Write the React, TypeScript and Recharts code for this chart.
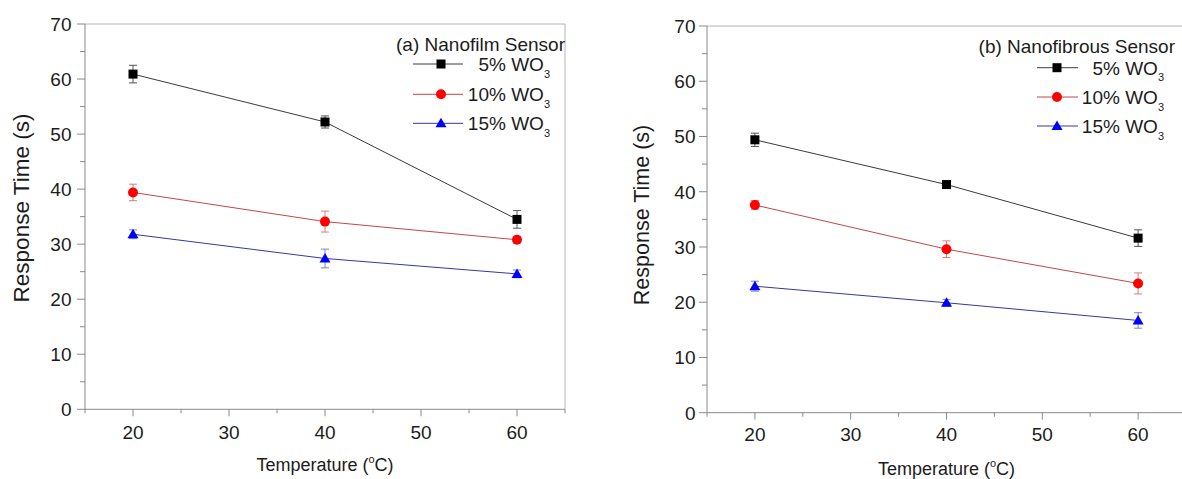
import { LineChart, Line, XAxis, YAxis, ErrorBar, ReferenceLine, Legend, Label } from 'recharts';

const temperatures = [20, 40, 60];

// (a) nanofilm sensor
const filmWO5 = [60.9, 52.2, 34.5];
const filmWO5Err = [1.6, 1.1, 1.6];
const filmWO10 = [39.4, 34.1, 30.8];
const filmWO10Err = [1.5, 1.9, 0.6];
const filmWO15 = [31.8, 27.4, 24.6];
const filmWO15Err = [0.8, 1.7, 0.7];

// (b) nanofibrous sensor
const fiberWO5 = [49.4, 41.3, 31.6];
const fiberWO5Err = [1.2, 0.5, 1.5];
const fiberWO10 = [37.6, 29.6, 23.4];
const fiberWO10Err = [0.8, 1.5, 1.9];
const fiberWO15 = [22.9, 19.9, 16.7];
const fiberWO15Err = [0.9, 0.6, 1.4];

const xTicks = [15, 20, 25, 30, 35, 40, 45, 50, 55, 60, 65];
const yTicks = [0, 5, 10, 15, 20, 25, 30, 35, 40, 45, 50, 55, 60, 65, 70];
const seriesLabels = ['5%', '10%', '15%'];

const FONT = '"Liberation Sans", Arial, sans-serif';
const AXIS = '#8a8a8a';
const FRAME = '#b4b4b4';
const INK = '#1c1c1c';
const TICK_FONT = 19;
const LEGEND_FONT = 19;

const SERIES = [
  { key: 'a', shape: 'square', fill: '#000000', line: '#3a3a3a', err: '#555555' },
  { key: 'b', shape: 'circle', fill: '#ff0000', line: '#c24848', err: '#dd7a7a' },
  { key: 'c', shape: 'triangle', fill: '#0000ff', line: '#38389a', err: '#8080c0' },
];

const buildRows = (
  v5: number[], e5: number[], v10: number[], e10: number[], v15: number[], e15: number[],
) =>
  temperatures.map((t, i) => ({
    t,
    a: v5[i], ea: e5[i],
    b: v10[i], eb: e10[i],
    c: v15[i], ec: e15[i],
  }));

const filmRows = buildRows(filmWO5, filmWO5Err, filmWO10, filmWO10Err, filmWO15, filmWO15Err);
const fiberRows = buildRows(fiberWO5, fiberWO5Err, fiberWO10, fiberWO10Err, fiberWO15, fiberWO15Err);

function Marker({ cx, cy, shape, fill }: { cx: number; cy: number; shape: string; fill: string }) {
  if (cx == null || cy == null) return null;
  if (shape === 'square') return <rect x={cx - 4.5} y={cy - 4.5} width={9} height={9} fill={fill} />;
  if (shape === 'circle') return <circle cx={cx} cy={cy} r={5} fill={fill} />;
  return <polygon points={`${cx},${cy - 5.5} ${cx - 5.5},${cy + 4} ${cx + 5.5},${cy + 4}`} fill={fill} />;
}

function makeXTick(labelDy: number) {
  return (props: any) => {
    const { x, y, payload } = props;
    const v = payload.value;
    const major = v % 10 === 0;
    return (
      <g>
        <line x1={x} x2={x} y1={y} y2={y + (major ? 7 : 4)} stroke={AXIS} />
        {major && (
          <text x={x} y={y + labelDy} textAnchor="middle" fontSize={TICK_FONT} fill={INK} fontFamily={FONT}>
            {v}
          </text>
        )}
      </g>
    );
  };
}

function makeYTick(gap: number) {
  return (props: any) => {
    const { x, y, payload } = props;
    const v = payload.value;
    const major = v % 10 === 0;
    return (
      <g>
        <line x1={x - (major ? 8 : 5)} x2={x} y1={y} y2={y} stroke={AXIS} />
        {major && (
          <text x={x - gap} y={y + 7} textAnchor="end" fontSize={TICK_FONT} fill={INK} fontFamily={FONT}>
            {v}
          </text>
        )}
      </g>
    );
  };
}

interface LegendGeom {
  titleX: number;
  titleY: number;
  rows: number[];
  lineX1: number;
  lineX2: number;
  markerX: number;
  textEnd: number;
}

function LegendBox({ title, g }: { title: string; g: LegendGeom }) {
  return (
    <svg width={200} height={110} style={{ overflow: 'visible', display: 'block' }}>
      <text x={g.titleX} y={g.titleY} textAnchor="end" fontSize={LEGEND_FONT} fill={INK} fontFamily={FONT}>
        {title}
      </text>
      {SERIES.map((s, i) => (
        <g key={s.key}>
          <line x1={g.lineX1} x2={g.lineX2} y1={g.rows[i]} y2={g.rows[i]} stroke={s.line} strokeWidth={1} />
          <Marker cx={g.markerX} cy={g.rows[i]} shape={s.shape} fill={s.fill} />
          <text x={g.textEnd} y={g.rows[i] + 7} textAnchor="end" fontSize={LEGEND_FONT} fill={INK} fontFamily={FONT}>
            {seriesLabels[i]} WO
            <tspan fontSize={11} dy={6.5}>3</tspan>
          </text>
        </g>
      ))}
    </svg>
  );
}

interface PanelProps {
  rows: ReturnType<typeof buildRows>;
  title: string;
  pageLeft: number;
  top: number;
  plotBottom: number;
  yAxisWidth: number;
  marginRight: number;
  yTitle: { x: number; y: number; size: number };
  yLabelGap: number;
  xLabelDy: number;
  legend: LegendGeom;
}

function Panel(p: PanelProps) {
  const height = 479;
  const xAxisHeight = height - p.plotBottom;
  return (
    <div style={{ position: 'absolute', left: p.pageLeft, top: 0 }}>
      <LineChart
        width={600}
        height={height}
        data={p.rows}
        margin={{ top: p.top, right: p.marginRight, bottom: 0, left: 0 }}
      >
        <XAxis
          dataKey="t"
          type="number"
          domain={[15, 65]}
          ticks={xTicks}
          interval={0}
          height={xAxisHeight}
          stroke={AXIS}
          tickLine={false}
          tickSize={0}
          tickMargin={0}
          tick={makeXTick(p.xLabelDy)}
        >
          <Label
            content={(lp: any) => {
              const vb = lp.viewBox;
              return (
                <text
                  x={vb.x + vb.width / 2}
                  y={vb.y + 62}
                  textAnchor="middle"
                  fontSize={18}
                  fill={INK}
                  fontFamily={FONT}
                >
                  Temperature (
                  <tspan fontSize={11} dy={-8}>o</tspan>
                  <tspan fontSize={18} dy={8}>C)</tspan>
                </text>
              );
            }}
          />
        </XAxis>
        <YAxis
          type="number"
          domain={[0, 70]}
          ticks={yTicks}
          interval={0}
          width={p.yAxisWidth}
          stroke={AXIS}
          tickLine={false}
          tickSize={0}
          tickMargin={0}
          tick={makeYTick(p.yLabelGap)}
        >
          <Label
            content={() => (
              <text
                x={p.yTitle.x}
                y={p.yTitle.y}
                transform={`rotate(-90, ${p.yTitle.x}, ${p.yTitle.y})`}
                textAnchor="middle"
                fontSize={p.yTitle.size}
                fill={INK}
                fontFamily={FONT}
              >
                Response Time (s)
              </text>
            )}
          />
        </YAxis>
        <ReferenceLine y={70} stroke={FRAME} strokeWidth={1} />
        <ReferenceLine x={65} stroke={FRAME} strokeWidth={1} />
        <Legend
          layout="vertical"
          align="center"
          verticalAlign="middle"
          wrapperStyle={{ top: 30, left: 380, width: 200, height: 110 }}
          content={() => <LegendBox title={p.title} g={p.legend} />}
        />
        {SERIES.map((s) => (
          <Line
            key={s.key}
            type="linear"
            dataKey={s.key}
            stroke={s.line}
            strokeWidth={1}
            isAnimationActive={false}
            activeDot={false}
            dot={(d: any) => (
              <Marker key={`${s.key}-${d.index}`} cx={d.cx} cy={d.cy} shape={s.shape} fill={s.fill} />
            )}
          >
            <ErrorBar dataKey={`e${s.key}`} width={4} stroke={s.err} strokeWidth={1} direction="y" />
          </Line>
        ))}
      </LineChart>
    </div>
  );
}

export default function App() {
  return (
    <div
      style={{
        position: 'absolute',
        left: 0,
        top: 0,
        width: 1182,
        height: 479,
        overflow: 'hidden',
        background: '#ffffff',
        fontFamily: FONT,
      }}
    >
      <Panel
        rows={filmRows}
        title="(a) Nanofilm Sensor"
        pageLeft={0}
        top={24}
        plotBottom={409.3}
        yAxisWidth={85}
        marginRight={35}
        yTitle={{ x: 28.5, y: 208, size: 22.5 }}
        yLabelGap={13.5}
        xLabelDy={29.5}
        legend={{
          titleX: 185,
          titleY: 21,
          rows: [34, 64.3, 93.3],
          lineX1: 33,
          lineX2: 83,
          markerX: 61,
          textEnd: 170,
        }}
      />
      <Panel
        rows={fiberRows}
        title="(b) Nanofibrous Sensor"
        pageLeft={600}
        top={26}
        plotBottom={412.7}
        yAxisWidth={107}
        marginRight={14}
        yTitle={{ x: 48.8, y: 215, size: 21.5 }}
        yLabelGap={11.5}
        xLabelDy={28.5}
        legend={{
          titleX: 195,
          titleY: 23,
          rows: [37.7, 67, 96],
          lineX1: 57,
          lineX2: 98,
          markerX: 77,
          textEnd: 184,
        }}
      />
    </div>
  );
}
